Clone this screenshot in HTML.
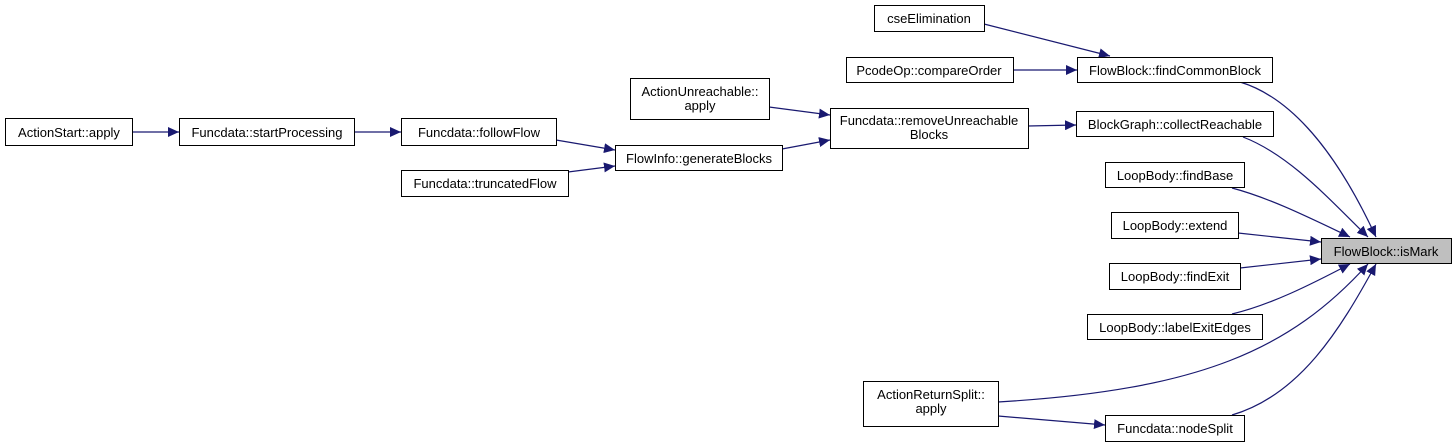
<!DOCTYPE html>
<html><head><meta charset="utf-8"><style>
html,body{margin:0;padding:0;background:#fff;width:1456px;height:447px;overflow:hidden}
text{font-family:"Liberation Sans",Arial,sans-serif;font-size:13px;fill:#000}
</style></head><body>
<svg width="1456" height="447" viewBox="0 0 1456 447" xmlns="http://www.w3.org/2000/svg">
<defs>
<marker id="a" markerUnits="userSpaceOnUse" markerWidth="12" markerHeight="10" refX="11" refY="5" orient="auto">
<path d="M0,0 L11,5 L0,10 z" fill="#191970"/>
</marker>
</defs>
<g fill="none" stroke="#191970" stroke-width="1.2" marker-end="url(#a)">
<path d="M132,132 L179,132"/>
<path d="M354,132 L401,132"/>
<path d="M556,140 L615,150"/>
<path d="M568,172 L615,166"/>
<path d="M782,149 L830,140"/>
<path d="M769,107 L830,115"/>
<path d="M1028,126 L1076,125"/>
<path d="M1013,70 L1077,70"/>
<path d="M984,24 L1110,56"/>
<path d="M1240,82 C1300,100 1345,170 1376,237"/>
<path d="M1243,137 C1290,155 1330,200 1368,237"/>
<path d="M1232,188 C1270,198 1310,218 1350,237"/>
<path d="M1238,233 L1321,242"/>
<path d="M1240,268 L1321,259"/>
<path d="M1232,314 C1270,305 1310,285 1350,264"/>
<path d="M998,402 C1200,390 1290,350 1368,264"/>
<path d="M1232,415 C1300,395 1340,330 1376,264"/>
<path d="M998,416 L1105,425"/>
</g>
<g fill="#fff" stroke="#000" stroke-width="1">
<rect x="5.5" y="118.5" width="127" height="27"/>
<rect x="179.5" y="118.5" width="175" height="27"/>
<rect x="401.5" y="118.5" width="155" height="27"/>
<rect x="401.5" y="170.5" width="167" height="26"/>
<rect x="615.5" y="145.5" width="167" height="25"/>
<rect x="630.5" y="78.5" width="139" height="41"/>
<rect x="830.5" y="108.5" width="198" height="40"/>
<rect x="874.5" y="5.5" width="110" height="26"/>
<rect x="846.5" y="57.5" width="167" height="25"/>
<rect x="1077.5" y="57.5" width="195" height="25"/>
<rect x="1076.5" y="111.5" width="197" height="25"/>
<rect x="1105.5" y="162.5" width="139" height="25"/>
<rect x="1111.5" y="212.5" width="127" height="26"/>
<rect x="1321.5" y="238.5" width="130" height="25" fill="#bfbfbf"/>
<rect x="1109.5" y="263.5" width="131" height="26"/>
<rect x="1087.5" y="314.5" width="175" height="25"/>
<rect x="863.5" y="381.5" width="135" height="45"/>
<rect x="1105.5" y="415.5" width="139" height="26"/>
</g>
<g text-anchor="middle">
<text x="69" y="137">ActionStart::apply</text>
<text x="267" y="137">Funcdata::startProcessing</text>
<text x="479" y="137">Funcdata::followFlow</text>
<text x="485" y="188">Funcdata::truncatedFlow</text>
<text x="699" y="163">FlowInfo::generateBlocks</text>
<text x="700" y="96">ActionUnreachable::</text>
<text x="700" y="110">apply</text>
<text x="929" y="125">Funcdata::removeUnreachable</text>
<text x="929" y="139">Blocks</text>
<text x="929" y="23">cseElimination</text>
<text x="929" y="75">PcodeOp::compareOrder</text>
<text x="1175" y="75">FlowBlock::findCommonBlock</text>
<text x="1175" y="129">BlockGraph::collectReachable</text>
<text x="1175" y="180">LoopBody::findBase</text>
<text x="1175" y="230">LoopBody::extend</text>
<text x="1386" y="256">FlowBlock::isMark</text>
<text x="1175" y="281">LoopBody::findExit</text>
<text x="1175" y="332">LoopBody::labelExitEdges</text>
<text x="931" y="399">ActionReturnSplit::</text>
<text x="931" y="413">apply</text>
<text x="1175" y="433">Funcdata::nodeSplit</text>
</g>
</svg>
</body></html>
